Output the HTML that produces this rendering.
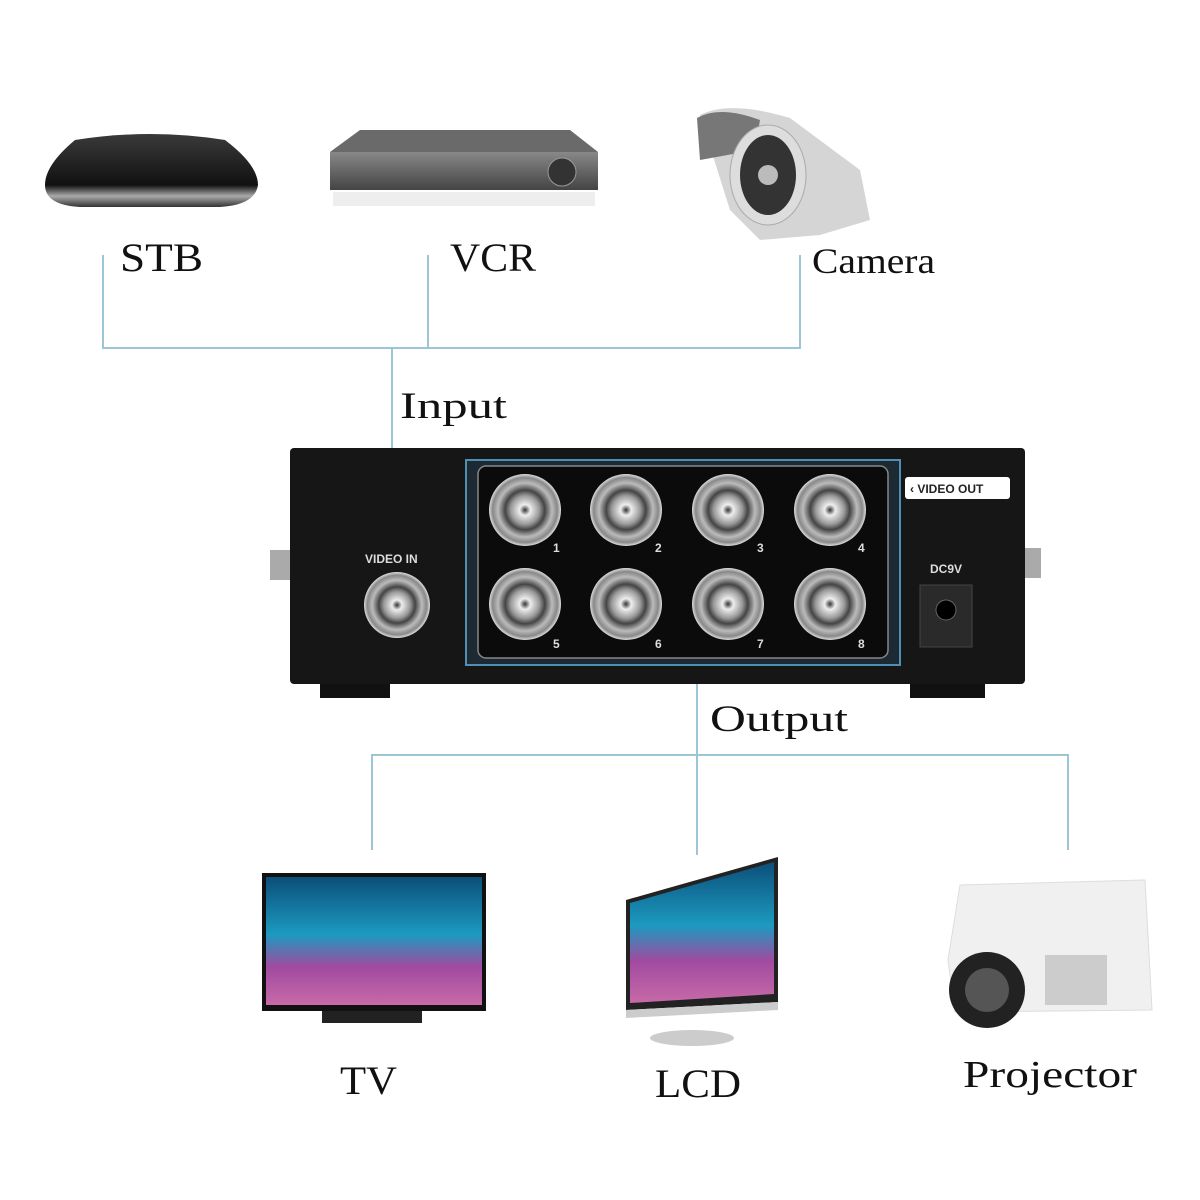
<!DOCTYPE html>
<html><head><meta charset="utf-8"><style>html,body{margin:0;padding:0;background:#fff}svg{display:block}</style></head>
<body>
<svg width="1200" height="1200" viewBox="0 0 1200 1200" xmlns="http://www.w3.org/2000/svg">
<defs>
<linearGradient id="stb" x1="0" y1="0" x2="0" y2="1"><stop offset="0" stop-color="#3a3a3a"/><stop offset=".7" stop-color="#111"/><stop offset=".85" stop-color="#aaa"/><stop offset="1" stop-color="#333"/></linearGradient>
<linearGradient id="vcr" x1="0" y1="0" x2="0" y2="1"><stop offset="0" stop-color="#888"/><stop offset="1" stop-color="#444"/></linearGradient>
<linearGradient id="scr" x1="0" y1="0" x2="0" y2="1"><stop offset="0" stop-color="#0b4f7a"/><stop offset=".45" stop-color="#1c9ac0"/><stop offset=".7" stop-color="#a04aa0"/><stop offset="1" stop-color="#c86aa8"/></linearGradient>
<radialGradient id="bnc"><stop offset="0" stop-color="#333"/><stop offset=".15" stop-color="#eee"/><stop offset=".4" stop-color="#999"/><stop offset=".55" stop-color="#444"/><stop offset=".75" stop-color="#bbb"/><stop offset=".9" stop-color="#888"/><stop offset="1" stop-color="#ddd"/></radialGradient>
</defs>
<!-- STB -->
<path d="M75 140 Q150 128 225 140 Q258 165 258 185 Q255 205 220 207 L80 207 Q45 205 45 185 Q45 165 75 140Z" fill="url(#stb)"/>
<!-- VCR -->
<path d="M330 152 L360 130 L570 130 L598 152 Z" fill="#6a6a6a"/>
<rect x="330" y="152" width="268" height="38" fill="url(#vcr)"/>
<circle cx="562" cy="172" r="14" fill="#333" stroke="#999"/>
<rect x="333" y="192" width="262" height="14" fill="#eee"/>
<!-- Camera -->
<path d="M700 115 Q730 100 790 118 L860 170 L870 220 L820 235 L760 240 L730 210 Z" fill="#d5d5d5"/>
<path d="M697 118 Q720 105 760 120 L755 150 L700 160Z" fill="#777"/>
<ellipse cx="768" cy="175" rx="38" ry="50" fill="#ddd" stroke="#aaa"/>
<ellipse cx="768" cy="175" rx="28" ry="40" fill="#333"/>
<circle cx="768" cy="175" r="10" fill="#bbb"/>
<!-- Lines -->
<g stroke="#9cc6d6" stroke-width="2" fill="none">
<path d="M103 255 V348 H800 V255 M428 255 V348 M392 348 V602"/>
<path d="M697 665 V855 M372 850 V755 H1068 V850"/>
</g>
<g font-family="'Liberation Serif',serif" fill="#111" lengthAdjust="spacingAndGlyphs">
<text x="120" y="271" font-size="40" textLength="83" lengthAdjust="spacingAndGlyphs">STB</text>
<text x="450" y="271" font-size="40" textLength="86" lengthAdjust="spacingAndGlyphs">VCR</text>
<text x="812" y="273" font-size="36" textLength="123" lengthAdjust="spacingAndGlyphs">Camera</text>
<text x="400" y="418" font-size="37" textLength="107" lengthAdjust="spacingAndGlyphs">Input</text>
<text x="710" y="731" font-size="37" textLength="138" lengthAdjust="spacingAndGlyphs">Output</text>
<text x="340" y="1094" font-size="40" textLength="57" lengthAdjust="spacingAndGlyphs">TV</text>
<text x="655" y="1097" font-size="40" textLength="86" lengthAdjust="spacingAndGlyphs">LCD</text>
<text x="963" y="1087" font-size="38" textLength="174" lengthAdjust="spacingAndGlyphs">Projector</text>
</g>
<!-- Device -->
<rect x="320" y="676" width="70" height="22" fill="#111"/>
<rect x="910" y="676" width="75" height="22" fill="#111"/>
<rect x="270" y="550" width="22" height="30" fill="#aaa"/>
<rect x="1023" y="548" width="18" height="30" fill="#aaa"/>
<rect x="290" y="448" width="735" height="236" rx="4" fill="#161616"/>
<rect x="466" y="460" width="434" height="205" fill="#1d2a33" stroke="#4f8fb3" stroke-width="2"/>
<rect x="478" y="466" width="410" height="192" rx="8" fill="#0b0b0b" stroke="#888" stroke-width="1.5"/>
<g>
<circle cx="525" cy="510" r="36" fill="url(#bnc)"/>
<circle cx="626" cy="510" r="36" fill="url(#bnc)"/>
<circle cx="728" cy="510" r="36" fill="url(#bnc)"/>
<circle cx="830" cy="510" r="36" fill="url(#bnc)"/>
<circle cx="525" cy="604" r="36" fill="url(#bnc)"/>
<circle cx="626" cy="604" r="36" fill="url(#bnc)"/>
<circle cx="728" cy="604" r="36" fill="url(#bnc)"/>
<circle cx="830" cy="604" r="36" fill="url(#bnc)"/>
<circle cx="397" cy="605" r="33" fill="url(#bnc)"/>
</g>
<g font-family="'Liberation Sans',sans-serif" font-weight="bold" fill="#ddd" font-size="12">
<text x="553" y="552">1</text><text x="655" y="552">2</text><text x="757" y="552">3</text><text x="858" y="552">4</text>
<text x="553" y="648">5</text><text x="655" y="648">6</text><text x="757" y="648">7</text><text x="858" y="648">8</text>
<text x="365" y="563">VIDEO IN</text>
<text x="930" y="573">DC9V</text>
</g>
<rect x="905" y="477" width="105" height="22" rx="3" fill="#fff"/>
<text x="910" y="493" font-family="'Liberation Sans',sans-serif" font-weight="bold" font-size="12" fill="#222">‹ VIDEO OUT</text>
<rect x="920" y="585" width="52" height="62" fill="#2a2a2a" stroke="#444"/>
<circle cx="946" cy="610" r="10" fill="#000" stroke="#666"/>
<!-- TV -->
<rect x="262" y="873" width="224" height="138" fill="#111"/>
<rect x="266" y="877" width="216" height="128" fill="url(#scr)"/>
<rect x="322" y="1011" width="100" height="12" fill="#222"/>
<!-- LCD -->
<path d="M626 900 L778 857 L778 1002 L626 1010 Z" fill="#222"/>
<path d="M630 903 L774 862 L774 994 L630 1003 Z" fill="url(#scr)"/>
<path d="M626 1010 L778 1002 L778 1010 L626 1018 Z" fill="#ccc"/>
<ellipse cx="692" cy="1038" rx="42" ry="8" fill="#ccc"/>
<!-- Projector -->
<path d="M960 885 L1145 880 L1152 1010 L955 1012 L948 960 Z" fill="#f0f0f0" stroke="#ddd"/>
<circle cx="987" cy="990" r="38" fill="#222"/><circle cx="987" cy="990" r="22" fill="#555"/>
<rect x="1045" y="955" width="62" height="50" fill="#ccc"/>
</svg>
</body></html>
